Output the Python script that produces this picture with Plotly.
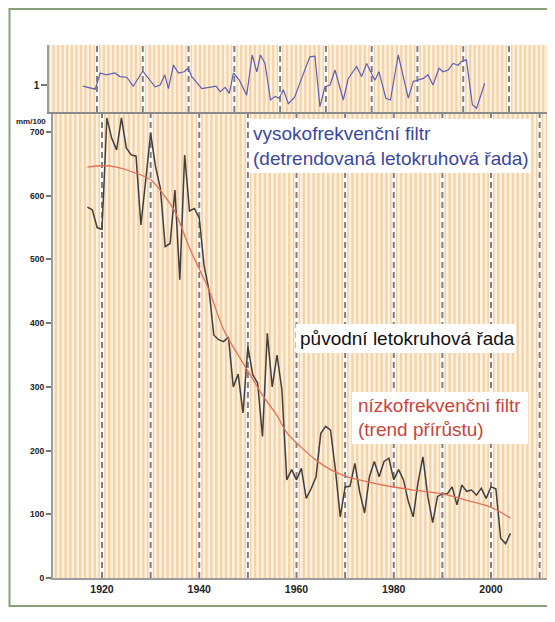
import plotly.graph_objects as go

# ---------------- data ----------------
years = list(range(1917, 2005))
ring_width = [
    582, 578, 550, 547, 722, 690, 672, 722, 675, 664,   # 1917-1926
    662, 554, 625, 698, 646, 612, 520, 525, 609, 468,   # 1927-1936
    664, 576, 580, 565, 490, 452, 381, 374, 371, 378,   # 1937-1946
    300, 320, 259, 363, 319, 306, 222, 384, 300, 350,   # 1947-1956
    295, 154, 170, 154, 172, 125, 140, 158, 227, 238,   # 1957-1966
    232, 170, 96, 143, 144, 180, 135, 102, 159, 183,    # 1967-1976
    159, 183, 188, 154, 170, 154, 120, 96, 150, 190,    # 1977-1986
    128, 87, 128, 132, 132, 143, 115, 146, 136, 138,    # 1987-1996
    130, 141, 125, 143, 140, 62, 54, 70,                # 1997-2004
]

trend_years = [1917, 1920, 1923, 1926, 1930, 1933, 1935, 1938, 1940, 1942,
               1945, 1948, 1950, 1953, 1956, 1958, 1961, 1964, 1967, 1970,
               1974, 1979, 1985, 1990, 1995, 2000, 2004]
trend_values = [645, 647, 645, 638, 625, 598, 575, 518, 485, 452,
                390, 350, 325, 287, 255, 228, 205, 185, 170, 160,
                152, 144, 137, 132, 122, 111, 94]

index_years = [1916.9, 1918.1, 1919.6, 1920.7, 1922.0, 1923.9, 1925.0, 1926.5, 1927.9, 1930.0,
               1931.2, 1932.7, 1933.8, 1934.8, 1935.6, 1936.7, 1937.8, 1939.0, 1939.9, 1940.7,
               1942.9, 1944.7, 1946.0, 1946.9, 1948.0, 1948.9, 1949.8, 1951.1, 1952.7, 1953.9,
               1954.9, 1955.7, 1956.7, 1957.9, 1958.9, 1959.8, 1960.7, 1961.8, 1963.2, 1964.7,
               1966.5, 1967.6, 1968.7, 1969.8, 1970.9, 1972.0, 1973.8, 1974.9, 1976.7, 1977.8,
               1978.9, 1980.7, 1981.6, 1983.1, 1984.1, 1985.8, 1986.9, 1988.0, 1989.1, 1990.2,
               1991.3, 1992.3, 1993.4, 1994.7, 1995.6, 1996.7, 1997.8, 1998.9, 1999.6, 2000.7,
               2002.0, 2002.9, 2004.7]
index_values = [0.98, 0.96, 0.93, 1.20, 1.17, 1.20, 1.14, 1.13, 0.98, 1.23,
                1.11, 0.97, 1.00, 1.17, 0.94, 1.33, 1.20, 1.22, 1.28, 1.14,
                0.94, 0.96, 0.98, 0.89, 0.96, 0.86, 1.20, 1.08, 0.83, 1.50,
                1.22, 1.50, 1.36, 0.75, 0.81, 0.78, 0.92, 0.69, 0.80, 1.11,
                1.47, 1.48, 0.64, 0.97, 1.00, 1.25, 0.75, 1.11, 1.31, 1.14,
                1.36, 1.08, 1.22, 0.78, 0.75, 1.50, 1.14, 0.78, 1.06, 1.08,
                1.11, 1.17, 1.00, 1.28, 1.22, 1.25, 1.36, 1.33, 1.39, 1.42,
                0.67, 0.61, 1.03]

x_tick_vals = [1920, 1940, 1960, 1980, 2000]
y_tick_vals = [0, 100, 200, 300, 400, 500, 600, 700]
top_tick_vals = [1]
decades = list(range(1920, 2011, 10))

# ---------------- layout geometry ----------------
# page body has an 8px margin, so the figure is 547x614 and window px = figure px + 8
FW, FH = 547, 614
L, R, T, B = 41, 0, 37, 44
PW, PH = FW - L - R, FH - T - B   # 506 x 533


def pxx(wx):  # window px -> paper x
    return (wx - 49) / PW


def pxy(wy):  # window py -> paper y
    return (578 - wy) / PH


# bottom panel calibration (window px)
ppy_b = (491 - 102) / 80.0
xb0 = 1920 - (102 - 53) / ppy_b
xb1 = 1920 + (555 - 102) / ppy_b
ppv = (578 - 132) / 700.0
yb1 = (578 - 112) / ppv

# top panel calibration
ppy_t = (509 - 97) / 90.0
xt0 = 1920 - (97 - 49) / ppy_t
xt1 = 1920 + (555 - 97) / ppy_t
yt0 = 1 - (112 - 85) / 60.0
yt1 = 1 + (85 - 45) / 60.0

STRIPE = '#f6d2a5'
BG = '#fdf2e3'
FONT = 'Liberation Sans, Arial, sans-serif'

fig = go.Figure()


def vlines(xs, y0, y1):
    X, Y = [], []
    for d in xs:
        X += [d, d, None]
        Y += [y0, y1, None]
    return X, Y


# stripes (one per year)
sx_b = [y + 0.5 for y in range(1905, 2016)]
X, Y = vlines(sx_b, 0, yb1)
fig.add_trace(go.Scatter(x=X, y=Y, mode='lines', line=dict(color=STRIPE, width=2.4),
                         xaxis='x', yaxis='y', hoverinfo='skip'))
sx_t = [y + 0.5 for y in range(1905, 2022)]
X, Y = vlines(sx_t, yt0, yt1)
fig.add_trace(go.Scatter(x=X, y=Y, mode='lines', line=dict(color=STRIPE, width=2.3),
                         xaxis='x2', yaxis='y2', hoverinfo='skip'))

# decade dashed lines
for xa, ya, y0, y1 in [('x', 'y', 0, yb1), ('x2', 'y2', yt0, yt1)]:
    X, Y = vlines(decades, y0, y1)
    fig.add_trace(go.Scatter(x=X, y=Y, mode='lines', line=dict(color='white', width=4),
                             xaxis=xa, yaxis=ya, hoverinfo='skip'))
    fig.add_trace(go.Scatter(x=X, y=Y, mode='lines', line=dict(color='#7d7d82', width=2, dash='6px,4px'),
                             xaxis=xa, yaxis=ya, hoverinfo='skip'))

# data lines
fig.add_trace(go.Scatter(x=years, y=ring_width, mode='lines', line=dict(color='#404040', width=1.5),
                         xaxis='x', yaxis='y'))
fig.add_trace(go.Scatter(x=trend_years, y=trend_values, mode='lines',
                         line=dict(color='#e2705a', width=1.3, shape='spline'),
                         xaxis='x', yaxis='y'))
fig.add_trace(go.Scatter(x=index_years, y=index_values, mode='lines', line=dict(color='#5f5fb8', width=1.2),
                         xaxis='x2', yaxis='y2'))

shapes = []
# white label boxes
for (x0, y0, x1, y1) in [(249, 119, 531, 173), (296, 324, 516, 353), (352, 392, 528, 444)]:
    shapes.append(dict(type='rect', xref='paper', yref='paper', x0=pxx(x0), x1=pxx(x1),
                       y0=pxy(y1), y1=pxy(y0), fillcolor='white', line=dict(width=0), layer='above'))
# outer green frame
shapes.append(dict(type='rect', xref='paper', yref='paper', x0=pxx(9.5), x1=pxx(562),
                   y0=pxy(606), y1=pxy(9), line=dict(color='#88a277', width=2), layer='above'))

annotations = []


def label(text, px, py, color, size=19):
    annotations.append(dict(text=text, xref='paper', yref='paper', x=pxx(px), y=pxy(py),
                            xanchor='left', yanchor='middle', showarrow=False,
                            font=dict(family=FONT, size=size, color=color)))


label('vysokofrekvenční filtr', 251, 133, '#3b47a0')
label('(detrendovaná letokruhová řada)', 251, 158, '#3b47a0')
label('původní letokruhová řada', 298, 338, '#111111')
label('nízkofrekvenčni filtr', 356, 405, '#c9443a')
label('(trend přírůstu)', 356, 430, '#c9443a')
annotations.append(dict(text='mm/100', xref='paper', yref='paper', x=pxx(48), y=pxy(121),
                        xanchor='right', yanchor='middle', showarrow=False,
                        font=dict(family=FONT, size=8, color='#222', weight='bold')))

fig.update_layout(
    width=FW, height=FH, autosize=False,
    margin=dict(l=L, r=R, t=T, b=B, pad=0),
    paper_bgcolor='white', plot_bgcolor=BG,
    showlegend=False,
    shapes=shapes, annotations=annotations,
    xaxis=dict(domain=[pxx(53), 1], range=[xb0, xb1], anchor='y', showgrid=False, zeroline=False,
               showline=True, linecolor='#9c9c9c', linewidth=2, tickvals=x_tick_vals, ticks='',
               tickfont=dict(family=FONT, size=10.5, color='#222', weight='bold')),
    yaxis=dict(domain=[0, pxy(112)], range=[0, yb1], anchor='x', showgrid=False, zeroline=False,
               showline=True, linecolor='#9c9c9c', linewidth=2, tickvals=y_tick_vals,
               ticks='outside', ticklen=5, tickwidth=1.5, tickcolor='#777',
               tickfont=dict(family=FONT, size=8.5, color='#222', weight='bold')),
    xaxis2=dict(domain=[0, 1], range=[xt0, xt1], anchor='y2', showgrid=False, zeroline=False,
                showline=True, linecolor='#8a8a8a', linewidth=2, showticklabels=False, ticks=''),
    yaxis2=dict(domain=[pxy(112), 1], range=[yt0, yt1], anchor='x2', showgrid=False, zeroline=False,
                showline=True, linecolor='#9c9c9c', linewidth=1.5, tickvals=top_tick_vals,
                ticks='outside', ticklen=6, tickwidth=1.5, tickcolor='#777',
                tickfont=dict(family=FONT, size=10, color='#222', weight='bold')),
)

fig.write_html('out.html', config={'displayModeBar': False})
